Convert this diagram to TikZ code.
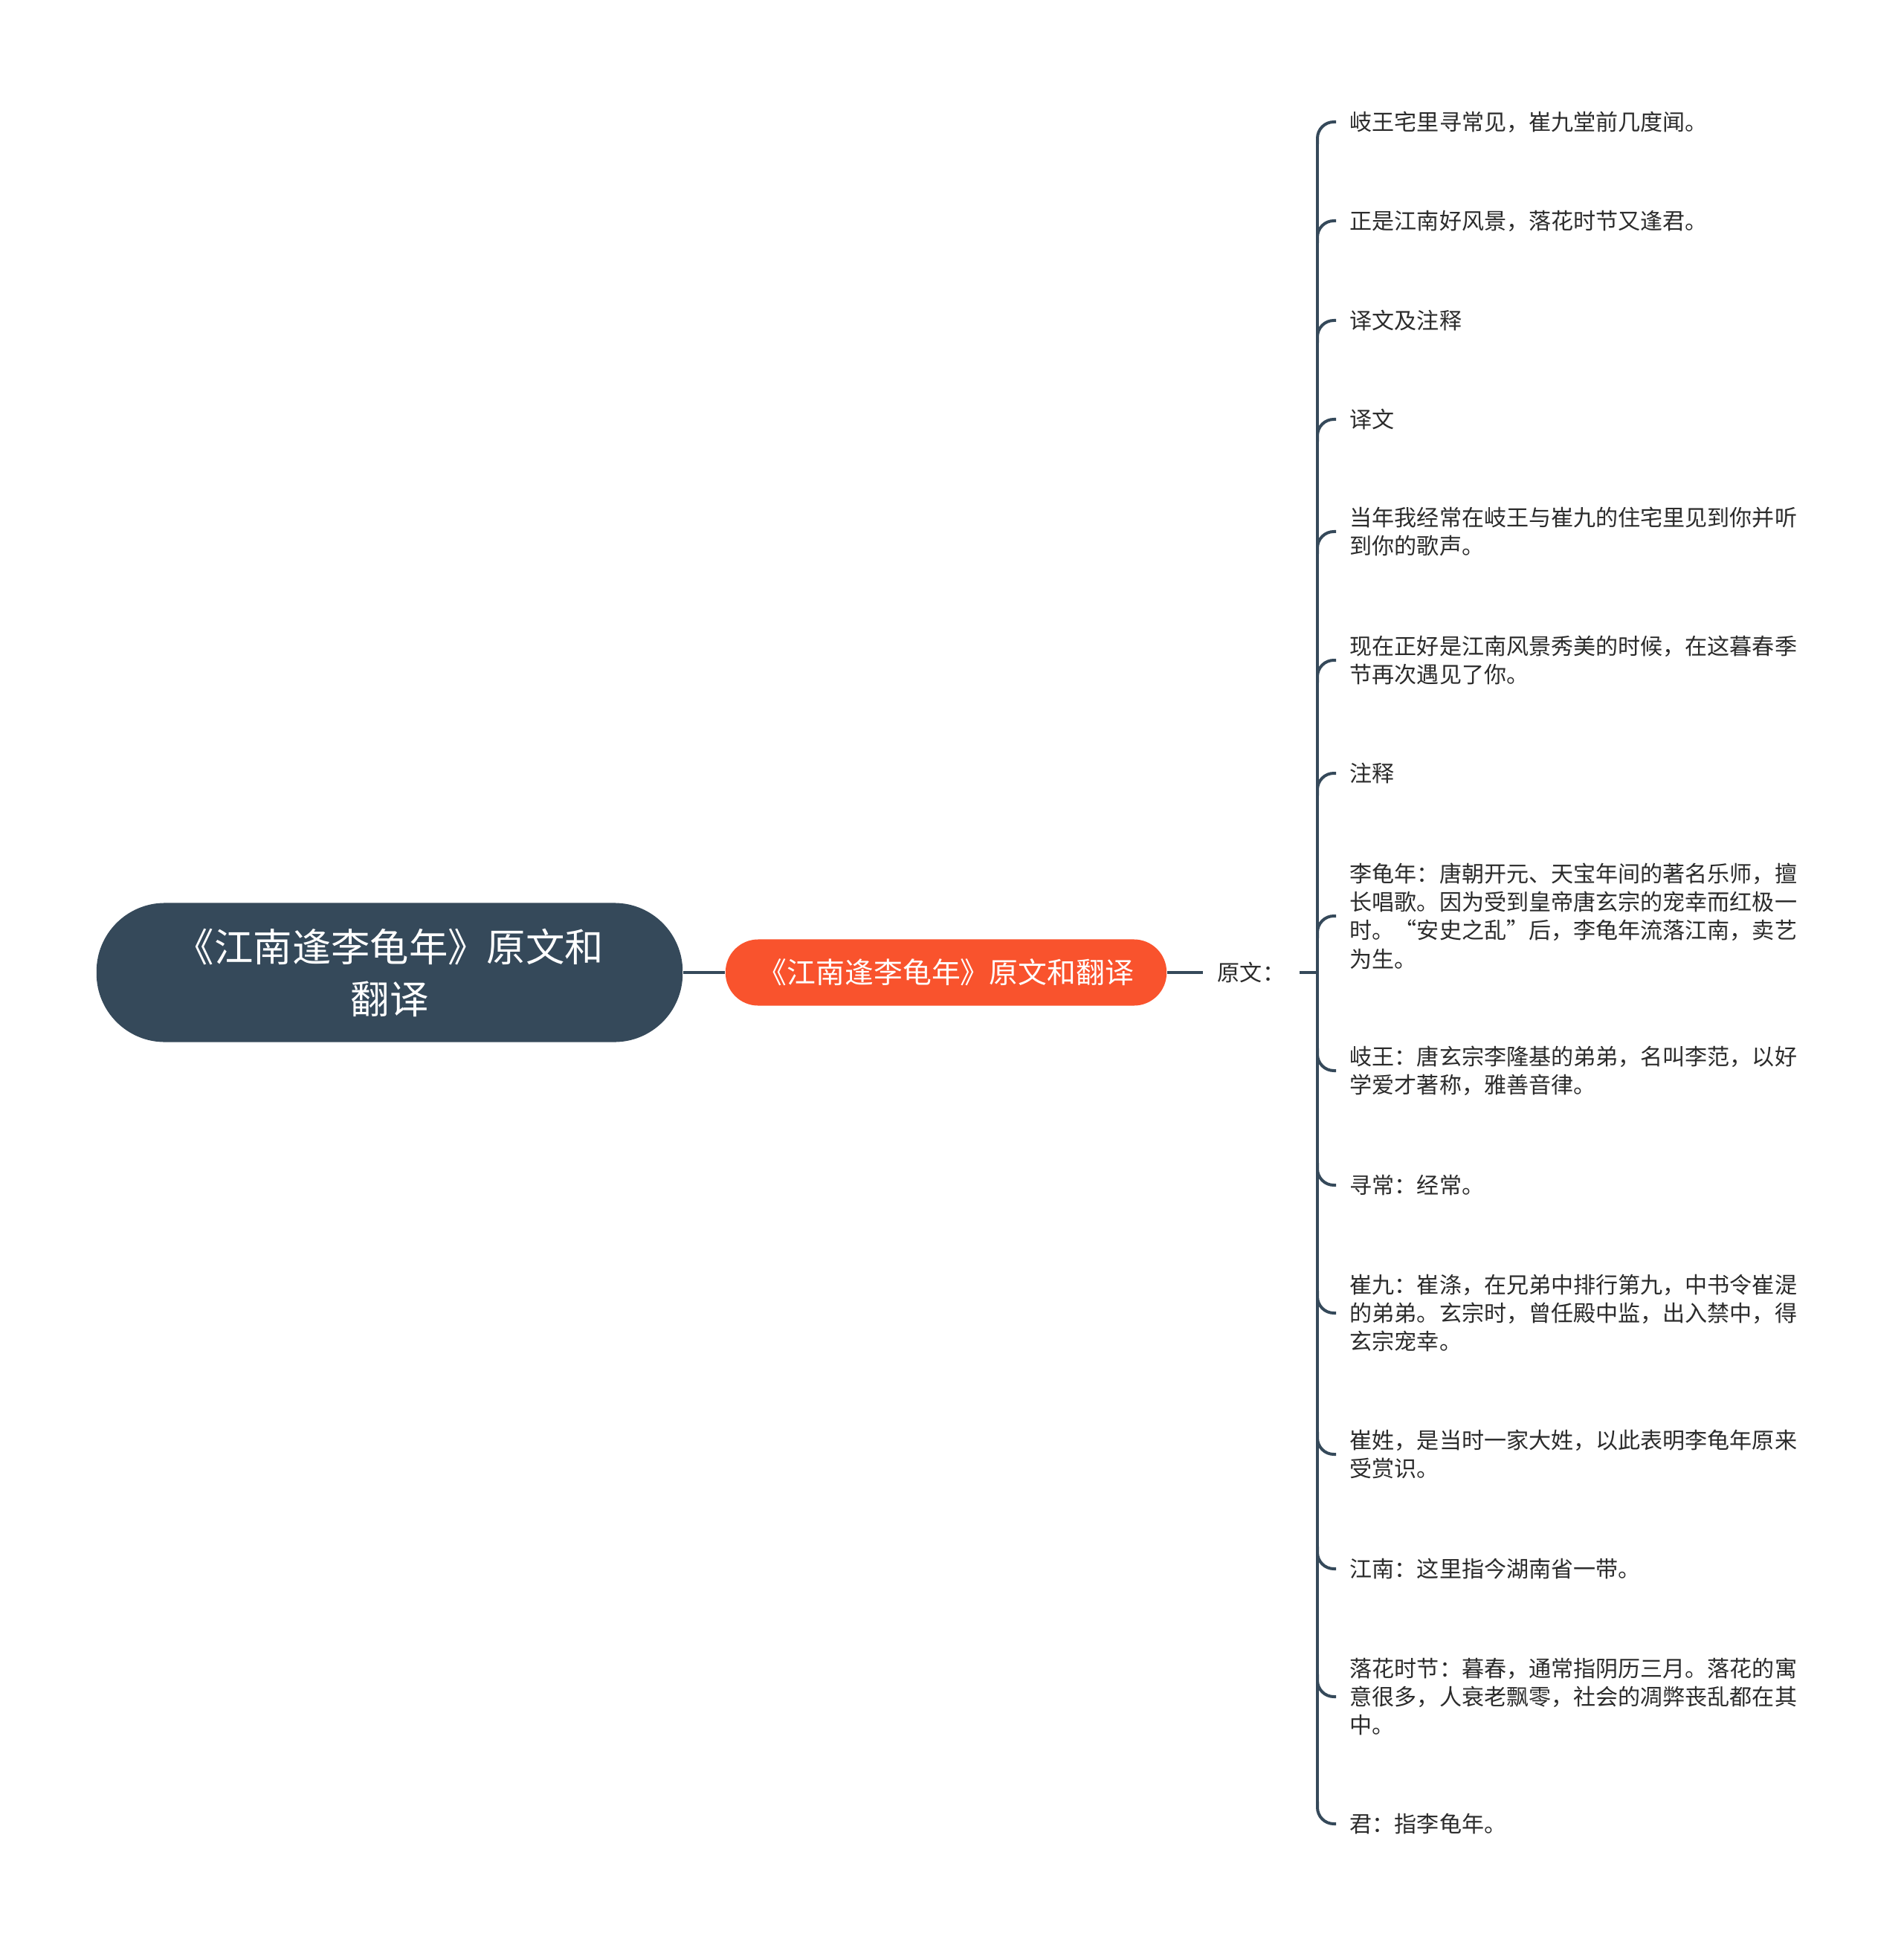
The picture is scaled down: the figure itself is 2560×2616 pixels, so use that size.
\documentclass[tikz,border=0pt]{standalone}
\usepackage{fontspec}
\setmainfont{Noto Sans CJK SC}
\usetikzlibrary{calc}
\definecolor{dark}{HTML}{35495A}
\definecolor{orng}{HTML}{F9532D}
\definecolor{txt}{HTML}{2B2B2B}
\begin{document}
\begin{tikzpicture}[x=0.01cm,y=-0.01cm,
  conn/.style={draw=dark,line width=0.04cm},
  leaf/.style={anchor=west,inner sep=0pt,align=left,text=txt,font=\fontsize{8.55pt}{10.9pt}\selectfont},
  rootbox/.style={fill=dark,text=white,align=center,minimum width=7.88cm,minimum height=1.87cm,rounded corners=0.92cm,inner sep=0pt,font=\fontsize{14.9pt}{19.9pt}\selectfont},
  mainbox/.style={fill=orng,text=white,minimum width=5.93cm,minimum height=0.89cm,rounded corners=0.44cm,inner sep=0pt,font=\fontsize{11.05pt}{13pt}\selectfont},
  lbl/.style={inner xsep=0.19cm,inner ysep=0pt,text=txt,font=\fontsize{8.55pt}{10.9pt}\selectfont},
  upbr/.style={conn,rounded corners=0.22cm},
]
\useasboundingbox (0,0) rectangle (2560,2616);

\node[rootbox] (root) at (524,1308) {《江南逢李龟年》原文和\\翻译};
\node[mainbox] (main) at (1272.5,1308) {《江南逢李龟年》原文和翻译};
\node[lbl] (yw) at (1683,1308) {原文：};
\coordinate (t) at (1772,1308);

\draw[conn] (root.east) -- (main.west);
\draw[conn] (main.east) -- (yw.west);
\draw[conn] (yw.east) -- (t);

\node[leaf] (c1) at (1815,164) {岐王宅里寻常见，崔九堂前几度闻。};
\node[leaf] (c2) at (1815,297) {正是江南好风景，落花时节又逢君。};
\node[leaf] (c3) at (1815,431) {译文及注释};
\node[leaf] (c4) at (1815,564) {译文};
\node[leaf] (c5) at (1815,715) {当年我经常在岐王与崔九的住宅里见到你并听\\到你的歌声。};
\node[leaf] (c6) at (1815,888) {现在正好是江南风景秀美的时候，在这暮春季\\节再次遇见了你。};
\node[leaf] (c7) at (1815,1040) {注释};
\node[leaf] (c8) at (1815,1232) {李龟年：唐朝开元、天宝年间的著名乐师，擅\\长唱歌。因为受到皇帝唐玄宗的宠幸而红极一\\时。“安史之乱”后，李龟年流落江南，卖艺\\为生。};
\node[leaf] (c9) at (1815,1440) {岐王：唐玄宗李隆基的弟弟，名叫李范，以好\\学爱才著称，雅善音律。};
\node[leaf] (c10) at (1815,1594) {寻常：经常。};
\node[leaf] (c11) at (1815,1766) {崔九：崔涤，在兄弟中排行第九，中书令崔湜\\的弟弟。玄宗时，曾任殿中监，出入禁中，得\\玄宗宠幸。};
\node[leaf] (c12) at (1815,1956) {崔姓，是当时一家大姓，以此表明李龟年原来\\受赏识。};
\node[leaf] (c13) at (1815,2110) {江南：这里指今湖南省一带。};
\node[leaf] (c14) at (1815,2282) {落花时节：暮春，通常指阴历三月。落花的寓\\意很多，人衰老飘零，社会的凋弊丧乱都在其\\中。};
\node[leaf] (c15) at (1815,2453) {君：指李龟年。};

\draw[conn] ($(t|-c1.west)+(0,24)$) -- ($(t|-c15.west)+(0,-24)$);
\foreach \c in {c1,c2,c3,c4,c5,c6,c7,c8}
  \draw[upbr] ($(t|-\c.west)+(0,30)$) |- ($(\c.west)+(-18,0)$);
\foreach \c in {c9,c10,c11,c12,c13,c14,c15}
  \draw[upbr] ($(t|-\c.west)+(0,-30)$) |- ($(\c.west)+(-18,0)$);
\end{tikzpicture}
\end{document}
